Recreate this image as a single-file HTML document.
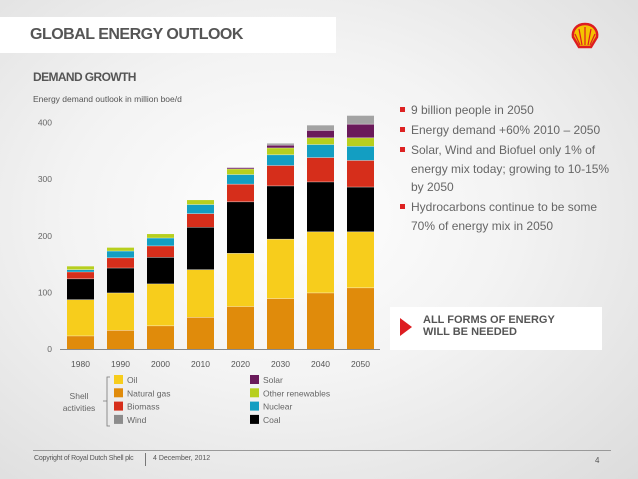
<!DOCTYPE html>
<html><head><meta charset="utf-8"><style>
body{margin:0;width:638px;height:479px;overflow:hidden;font-family:"Liberation Sans",sans-serif;}
#bg{position:absolute;left:0;top:0;width:638px;height:479px;background:radial-gradient(ellipse at 45% 45%,#ffffff 0%,#f3f3f3 45%,#dcdcdc 100%);}
.t{position:absolute;color:#555;white-space:nowrap;}
.b{margin-bottom:1.5px;padding-left:11px;text-indent:-11px}
.b span{display:inline-block;width:5px;height:5px;background:#d22;margin:0 6px 2px 0;text-indent:0}
</style></head><body>
<div id="bg"></div>
<div style="position:absolute;left:0;top:17px;width:336px;height:36px;background:#fff"></div>
<div class="t" style="left:30px;top:26px;font-size:16px;font-weight:900;color:#555;letter-spacing:-0.5px">GLOBAL ENERGY OUTLOOK</div>
<svg style="position:absolute;left:570px;top:22px" width="30" height="30" viewBox="0 0 30 30">
<path d="M15 2 C6 2 2 9 3 15 L9 25 L21 25 L27 15 C28 9 24 2 15 2Z" fill="#f5c200" stroke="#dd1d21" stroke-width="2.5"/>
<path d="M15 5 L15 23 M9 7 L12 23 M21 7 L18 23 M5 12 L10 23 M25 12 L20 23" stroke="#dd1d21" stroke-width="1.2"/>
</svg>
<div class="t" style="left:33px;top:70px;font-size:12px;font-weight:bold;letter-spacing:-0.6px">DEMAND GROWTH</div>
<div class="t" style="left:33px;top:94px;font-size:8.5px">Energy demand outlook in million boe/d</div>

<svg id="chart" style="position:absolute;left:0;top:0" width="390" height="440"></svg>

<div class="t" style="left:400px;top:101px;font-size:12px;line-height:18.5px;color:#666;white-space:normal;width:220px">
<div class="b"><span></span>9 billion people in 2050</div>
<div class="b"><span></span>Energy demand +60% 2010 – 2050</div>
<div class="b"><span></span>Solar, Wind and Biofuel only 1% of<br>energy mix today; growing to 10-15%<br>by 2050</div>
<div class="b"><span></span>Hydrocarbons continue to be some<br>70% of energy mix in 2050</div>
</div>
<div style="position:absolute;left:390px;top:307px;width:212px;height:43px;background:#fff"></div>
<div style="position:absolute;left:400px;top:318px;width:0;height:0;border-left:12px solid #dd1d21;border-top:9px solid transparent;border-bottom:9px solid transparent"></div>
<div class="t" style="left:423px;top:314px;font-size:11px;font-weight:900;line-height:12px;color:#555">ALL FORMS OF ENERGY<br>WILL BE NEEDED</div>

<div style="position:absolute;left:33px;top:450px;width:578px;height:1px;background:#999"></div>
<div class="t" style="left:34px;top:455px;font-size:7px;letter-spacing:-0.2px">Copyright of Royal Dutch Shell plc</div>
<div style="position:absolute;left:145px;top:453px;width:1px;height:13px;background:#777"></div>
<div class="t" style="left:153px;top:455px;font-size:7px">4 December, 2012</div>
<div class="t" style="left:595px;top:456px;font-size:8px">4</div>

<script>
const years=["1980","1990","2000","2010","2020","2030","2040","2050"];
const seriesNames=["Natural gas","Oil","Coal","Biomass","Nuclear","Other renewables","Solar","Wind"];
const gas=[23,33,41,56,75,89,99,108];
const oil=[64,66,74,84,94,105,108,99];
const coal=[37,44,47,75,91,94,88,79];
const biomass=[12,18,20,24,31,36,43,47];
const nuclear=[4,12,14,16,17,19,23,25];
const otherRen=[6,6,7,8,10,12,12,15];
const solar=[0,0,0,0,2,5,13,24];
const wind=[0,0,0,0,0,3,9,15];
const yTicks=[0,100,200,300,400];
const colors=["#e08b0b","#f7cd1c","#000000","#d62e1b","#139ec2","#b7cf1e","#6a1a5a","#a3a3a3"];
const series=[gas,oil,coal,biomass,nuclear,otherRen,solar,wind];
const NS="http://www.w3.org/2000/svg";
const svg=document.getElementById("chart");
const y0=349,pxPer=226.5/400;
const yS=v=>y0-v*pxPer;
const xS=i=>67+i*40;
const bw=27;
function mk(tag,attrs){const e=document.createElementNS(NS,tag);for(const k in attrs)e.setAttribute(k,attrs[k]);svg.appendChild(e);return e;}
yTicks.forEach(v=>{const t=mk("text",{x:52,y:yS(v)+3,"text-anchor":"end","font-size":"8.5",fill:"#666","font-family":"Liberation Sans, sans-serif"});t.textContent=v;

});
years.forEach((yr,i)=>{let acc=0;
series.forEach((s,k)=>{const v=s[i];if(v<=0)return;
const r=mk("rect",{x:xS(i),y:yS(acc+v),width:bw,height:v*pxPer,fill:colors[k]});


if(acc>0){const l=mk("line",{x1:xS(i),x2:xS(i)+bw,y1:yS(acc),y2:yS(acc),stroke:"#fff","stroke-width":"0.6",opacity:"0.6"});

}
acc+=v;});
const t=mk("text",{x:xS(i)+bw/2,y:367,"text-anchor":"middle","font-size":"8.5",fill:"#555","font-family":"Liberation Sans, sans-serif"});t.textContent=yr;

});
const ax=mk("line",{x1:60,x2:380,y1:y0+0.5,y2:y0+0.5,stroke:"#888","stroke-width":"1"});


const legL=[["Oil","#f7cd1c"],["Natural gas","#e08b0b"],["Biomass","#d62e1b"],["Wind","#8c8c8c"]];
const legR=[["Solar","#6a1a5a"],["Other renewables","#b7cf1e"],["Nuclear","#139ec2"],["Coal","#000000"]];
function legend(arr,x){arr.forEach((e,j)=>{const yy=375+j*13.3;
const r=mk("rect",{x:x,y:yy,width:9,height:9,fill:e[1]});


const t=mk("text",{x:x+13,y:yy+8,"font-size":"8.5",fill:"#666","font-family":"Liberation Sans, sans-serif"});t.textContent=e[0];

});}
legend(legL,114);legend(legR,250);
const br=mk("path",{d:"M110 377 L107 377 L107 426 L110 426 M107 401 L103 401",stroke:"#777",fill:"none","stroke-width":"0.8"});


[["Shell",396],["activities",408]].forEach(a=>{const t=mk("text",{x:79,y:a[1]+3,"text-anchor":"middle","font-size":"8.5",fill:"#666","font-family":"Liberation Sans, sans-serif"});t.textContent=a[0];

});
</script>
</body></html>
